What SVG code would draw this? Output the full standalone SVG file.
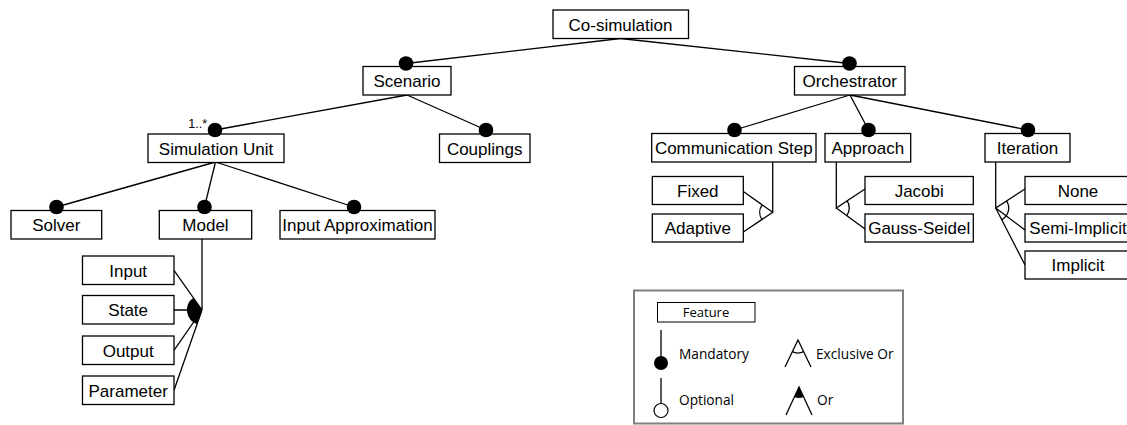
<svg xmlns="http://www.w3.org/2000/svg" width="1127" height="425" viewBox="0 0 1127 425">
<style>
.box{fill:#fff;stroke:#000;stroke-width:1.3}
.t{font-family:"Liberation Sans",Arial,sans-serif;font-size:17px;fill:#000;text-anchor:middle}
.sm{font-family:"Liberation Sans",Arial,sans-serif;font-size:12.5px;fill:#000;text-anchor:end}
.ln{stroke:#000;stroke-width:1.3;fill:none}
.dot{fill:#000}
.lg{font-family:"Open Sans","Noto Sans",sans-serif;font-size:13.7px;fill:#000}
</style>
<rect width="1127" height="425" fill="#fff"/>
<g id="connectors">
  <line class="ln" x1="620.5" y1="38.5" x2="406" y2="63.5"/>
  <line class="ln" x1="620.5" y1="38.5" x2="849.5" y2="63.5"/>
  <line class="ln" x1="407" y1="95" x2="215" y2="130"/>
  <line class="ln" x1="407" y1="95" x2="486" y2="130"/>
  <line class="ln" x1="850" y1="95" x2="734.5" y2="130"/>
  <line class="ln" x1="850" y1="95" x2="868.5" y2="130"/>
  <line class="ln" x1="850" y1="95" x2="1028" y2="130"/>
  <line class="ln" x1="215.5" y1="162" x2="56.5" y2="207"/>
  <line class="ln" x1="215.5" y1="162" x2="204.5" y2="207"/>
  <line class="ln" x1="215.5" y1="162" x2="354" y2="207"/>
  <path class="ln" d="M202,239 L202,310 M202,310 L174,270.3 M202,310 L174,310 M202,310 L174,350.3 M202,310 L174,390.3"/>
  <path class="dot" d="M202,310 L193.36,297.73 A15,15 0 0 0 197.06,324.16 Z"/>
  <path class="ln" d="M772.7,162 L772.7,212.3 L743.3,191.5 M772.7,212.3 L743.3,232"/>
  <path class="ln" d="M762.1,204.8 A13,13 0 0 0 761.9,219.5"/>
  <path class="ln" d="M836.3,162 L836.3,208 L865,189 M836.3,208 L865,229"/>
  <path class="ln" d="M847.05,200.7 A13,13 0 0 1 846.7,215.8"/>
  <path class="ln" d="M995.7,162 L995.7,208 L1025,189 M995.7,208 L1025,230 M995.7,208 L1025,265"/>
  <path class="ln" d="M1006.5,200.8 A13,13 0 0 1 1001.6,219.6"/>
</g>
<g id="co-simulation">
  <rect class="box" x="553" y="10" width="135.5" height="28.5"/>
  <text class="t" x="620.5" y="30.5">Co-simulation</text>
</g>
<g id="scenario">
  <rect class="box" x="363" y="66.5" width="88" height="28.5"/>
  <text class="t" x="407" y="87">Scenario</text>
  <circle class="dot" cx="406" cy="63.5" r="7.3"/>
</g>
<g id="orchestrator">
  <rect class="box" x="794.5" y="66.5" width="110.5" height="28.5"/>
  <text class="t" x="849.7" y="87">Orchestrator</text>
  <circle class="dot" cx="849.5" cy="63.5" r="7.3"/>
</g>
<g id="simulation-unit">
  <rect class="box" x="148" y="134" width="136" height="28.5"/>
  <text class="t" x="216" y="154.5">Simulation Unit</text>
  <circle class="dot" cx="215" cy="130" r="7.3"/>
  <text class="sm" x="207" y="127.5">1..*</text>
</g>
<g id="couplings">
  <rect class="box" x="439.5" y="134" width="90.5" height="28.5"/>
  <text class="t" x="484.7" y="154.5">Couplings</text>
  <circle class="dot" cx="486" cy="130" r="7.3"/>
</g>
<g id="communication-step">
  <rect class="box" x="651.7" y="133.5" width="164.3" height="28.5"/>
  <text class="t" x="733.8" y="154">Communication Step</text>
  <circle class="dot" cx="734.5" cy="130" r="7.3"/>
</g>
<g id="approach">
  <rect class="box" x="825" y="133.5" width="85.7" height="28.5"/>
  <text class="t" x="867.8" y="154">Approach</text>
  <circle class="dot" cx="868.5" cy="130" r="7.3"/>
</g>
<g id="iteration">
  <rect class="box" x="985" y="133.5" width="85" height="28.5"/>
  <text class="t" x="1027.5" y="154">Iteration</text>
  <circle class="dot" cx="1028" cy="130" r="7.3"/>
</g>
<g id="solver">
  <rect class="box" x="11" y="210.5" width="90.7" height="28.5"/>
  <text class="t" x="56.3" y="231">Solver</text>
  <circle class="dot" cx="56.5" cy="207" r="7.3"/>
</g>
<g id="model">
  <rect class="box" x="159.3" y="210.5" width="92.4" height="28.5"/>
  <text class="t" x="205.5" y="231">Model</text>
  <circle class="dot" cx="204.5" cy="207" r="7.3"/>
</g>
<g id="input-approximation">
  <rect class="box" x="280" y="210.5" width="155" height="28.5"/>
  <text class="t" x="357.5" y="231">Input Approximation</text>
  <circle class="dot" cx="354" cy="207" r="7.3"/>
</g>
<g id="input">
  <rect class="box" x="82.5" y="256" width="91.5" height="28.5"/>
  <text class="t" x="128.2" y="276.5">Input</text>
</g>
<g id="state">
  <rect class="box" x="82.5" y="295.5" width="91.5" height="28.5"/>
  <text class="t" x="128.2" y="316">State</text>
</g>
<g id="output">
  <rect class="box" x="82.5" y="336" width="91.5" height="28.5"/>
  <text class="t" x="128.2" y="356.5">Output</text>
</g>
<g id="parameter">
  <rect class="box" x="82.5" y="376" width="91.5" height="28.5"/>
  <text class="t" x="128.2" y="396.5">Parameter</text>
</g>
<g id="fixed">
  <rect class="box" x="652.3" y="176.5" width="91" height="28"/>
  <text class="t" x="697.8" y="196.7">Fixed</text>
</g>
<g id="adaptive">
  <rect class="box" x="652.3" y="214" width="91" height="28"/>
  <text class="t" x="697.8" y="234.2">Adaptive</text>
</g>
<g id="jacobi">
  <rect class="box" x="865" y="176.5" width="108.3" height="28"/>
  <text class="t" x="919.2" y="196.7">Jacobi</text>
</g>
<g id="gauss-seidel">
  <rect class="box" x="865" y="214" width="108.3" height="28"/>
  <text class="t" x="919.2" y="234.2">Gauss-Seidel</text>
</g>
<g id="none">
  <rect class="box" x="1025" y="176.5" width="108" height="28"/>
  <text class="t" x="1078" y="196.7">None</text>
</g>
<g id="semi-implicit">
  <rect class="box" x="1025" y="214" width="108" height="28"/>
  <text class="t" x="1078" y="234.2">Semi-Implicit</text>
</g>
<g id="implicit">
  <rect class="box" x="1025" y="251" width="108" height="28"/>
  <text class="t" x="1078" y="271.2">Implicit</text>
</g>
<g id="legend">
  <rect x="634" y="290.5" width="269" height="133" fill="#fff" stroke="#7f7f7f" stroke-width="2"/>
  <rect x="657.5" y="302.5" width="97.5" height="19.5" fill="#fff" stroke="#000" stroke-width="1"/>
  <text class="lg" x="706" y="317" style="text-anchor:middle;font-size:13px">Feature</text>
  <line class="ln" x1="661" y1="330" x2="661" y2="356"/>
  <circle class="dot" cx="661" cy="363" r="7"/>
  <text class="lg" x="679" y="359">Mandatory</text>
  <line class="ln" x1="661" y1="378" x2="661" y2="403.5"/>
  <circle cx="661" cy="410.5" r="7" fill="#fff" stroke="#000" stroke-width="1.2"/>
  <text class="lg" x="679" y="405">Optional</text>
  <path class="ln" d="M785,367 L798,340 L811,367"/>
  <path class="ln" d="M792.36,351.71 A13,13 0 0 0 803.64,351.71"/>
  <text class="lg" x="816" y="359">Exclusive Or</text>
  <path class="ln" d="M786,415 L799,387 L812,415"/>
  <path class="dot" d="M799,387 L794.37,396.98 A11,11 0 0 0 803.63,396.98 Z"/>
  <text class="lg" x="817" y="405">Or</text>
</g>
</svg>
